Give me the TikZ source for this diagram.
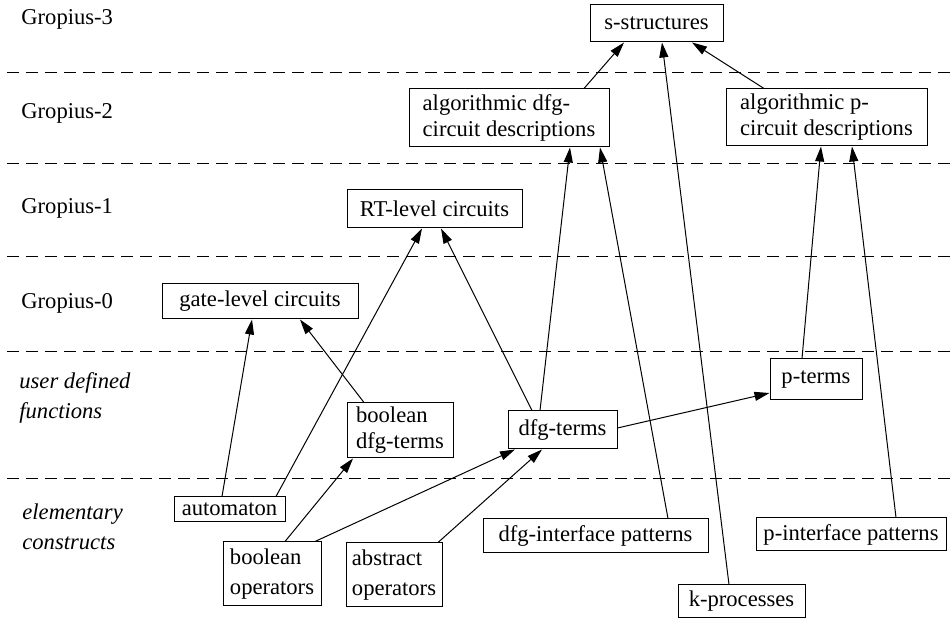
\documentclass[tikz,border=0pt]{standalone}
\usepackage{fontspec}
\setmainfont{Liberation Serif}
\usetikzlibrary{arrows.meta}

\begin{document}
\begin{tikzpicture}[
  x=0.5pt, y=-0.5pt,
  font=\fontsize{11.3}{13}\selectfont,
  b/.style={draw,line width=0.5pt,align=left,inner sep=0pt},
  wide/.style={font=\fontsize{11.3}{15}\selectfont},
  lvl/.style={anchor=west,inner sep=0pt,align=left},
  ital/.style={lvl,font=\fontsize{11.3}{15}\selectfont\itshape},
  sep/.style={line width=0.5pt,dash pattern=on 6pt off 3.5pt},
  arr/.style={-{Triangle[length=7.5pt,width=4.5pt]},line width=0.5pt}
]
\useasboundingbox (0,0) rectangle (950,620);
% layer separators
\foreach \y in {73,164,257,352,479}
  \draw[sep] (7,\y) -- (950,\y);
% layer names
\node[lvl] (g3) at (21,19) {Gropius-3};
\node[lvl] (g2) at (21,113) {Gropius-2};
\node[lvl] (g1) at (21,208) {Gropius-1};
\node[lvl] (g0) at (21,303) {Gropius-0};
\node[ital] (udf) at (19,398) {user defined\\functions};
\node[ital] (elc) at (22,527) {elementary\\constructs};
% boxes
\node[b,minimum width=66.5pt,minimum height=18.5pt] (s) at (656.5,23.5) {s-structures};
\node[b,minimum width=100pt,minimum height=29pt] (adfg) at (509,118) {algorithmic dfg-\\circuit descriptions};
\node[b,minimum width=100.5pt,minimum height=28.5pt] (ap) at (826.5,117.5) {algorithmic p-\\circuit descriptions};
\node[b,minimum width=87.5pt,minimum height=19pt] (rtl) at (434.5,209) {RT-level circuits};
\node[b,minimum width=98pt,minimum height=17.5pt] (gate) at (260,301.5) {gate-level circuits};
\node[b,minimum width=53pt,minimum height=27.5pt] (bdfg) at (400,430.5) {boolean\\dfg-terms};
\node[b,minimum width=54.5pt,minimum height=19pt] (dfg) at (562.5,430) {dfg-terms};
\node[b,minimum width=46pt,minimum height=20.5pt] (pt) at (816,379.5) {p-terms};
\node[b,minimum width=55.5pt,minimum height=12.5pt] (aut) at (229.5,509.5) {automaton};
\node[b,wide,minimum width=49pt,minimum height=32pt] (bop) at (272,574) {boolean\\operators};
\node[b,wide,minimum width=48pt,minimum height=32pt] (aop) at (394,575) {abstract\\operators};
\node[b,minimum width=112.5pt,minimum height=17pt] (dfgi) at (595.5,536) {dfg-interface patterns};
\node[b,minimum width=95pt,minimum height=16.5pt] (pif) at (851,534.5) {p-interface patterns};
\node[b,minimum width=63.5pt,minimum height=16.5pt] (kp) at (741.5,601.5) {k-processes};
% connections
\draw[arr] ([xshift=37.5pt]adfg.north) -- ([xshift=-16.25pt]s.south);
\draw[arr] ([xshift=-6.25pt]kp.north) -- ([xshift=2.75pt]s.south);
\draw[arr] ([xshift=-31.25pt]ap.north) -- ([xshift=17.75pt]s.south);
\draw[arr] ([xshift=-11.25pt]dfg.north) -- ([xshift=30.5pt]adfg.south);
\draw[arr] ([xshift=36.25pt]dfgi.north) -- ([xshift=45.5pt]adfg.south);
\draw[arr] ([xshift=-7pt]pt.north) -- ([xshift=-2.75pt]ap.south);
\draw[arr] ([xshift=22.5pt]pif.north) -- ([xshift=12.75pt]ap.south);
\draw[arr] ([xshift=23.25pt]aut.north) -- ([xshift=-6.25pt]rtl.south);
\draw[arr] ([xshift=-15.25pt]dfg.north) -- ([xshift=3.25pt]rtl.south);
\draw[arr] ([xshift=-3.75pt]aut.north) -- ([xshift=-4pt]gate.south);
\draw[arr] ([xshift=-18pt]bdfg.north) -- ([xshift=20pt]gate.south);
\draw[arr] ([xshift=6.5pt]bop.north) -- ([xshift=-23.5pt]bdfg.south);
\draw[arr] ([xshift=21.5pt]bop.north) -- ([xshift=-23.75pt]dfg.south);
\draw[arr] ([xshift=22pt]aop.north) -- ([xshift=-10.25pt]dfg.south);
\draw[arr] ([yshift=1pt]dfg.east) -- ([yshift=-6.75pt]pt.west);
\end{tikzpicture}
\end{document}
